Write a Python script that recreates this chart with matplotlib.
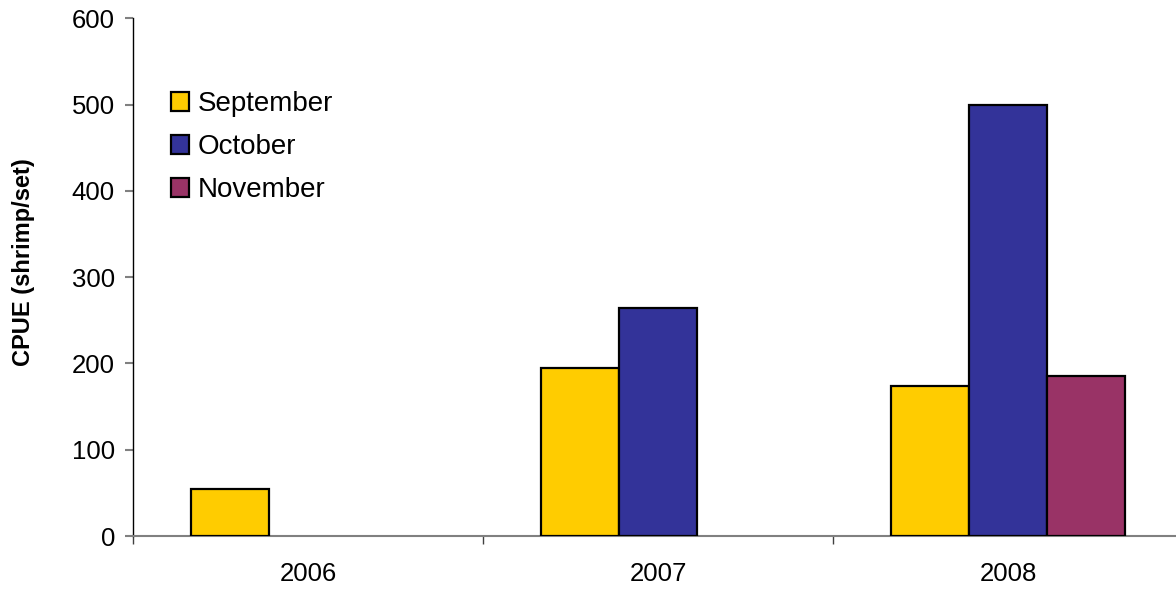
import matplotlib
matplotlib.use("Agg")
import matplotlib.pyplot as plt
import numpy as np

plt.rcParams['font.family'] = ['Liberation Sans', 'DejaVu Sans']

years = ["2006", "2007", "2008"]
months = ["September", "October", "November"]
september = [55, 195, 174]
october = [np.nan, 264, 500]
november = [np.nan, np.nan, 186]
colors = ["#FFCC00", "#333399", "#993366"]
yticks = [0, 100, 200, 300, 400, 500, 600]

W, H = 1176, 592
fig = plt.figure(figsize=(W / 100, H / 100), dpi=100)
ax = fig.add_axes([133 / W, 1 - 536 / H, 1050 / W, (536 - 18.3) / H])

x = np.arange(len(years))
bw = 0.222
series = [september, october, november]
for i, (vals, c, lab) in enumerate(zip(series, colors, months)):
    ax.bar(x + (i - 1) * bw, vals, width=bw, color=c, edgecolor="black",
           linewidth=1.6, label=lab, zorder=3)

ax.set_xlim(-0.5, 2.5)
ax.set_ylim(0, 600)
ax.set_yticks(yticks)
ax.set_yticklabels([str(t) for t in yticks])
ax.set_xticks(x)
ax.set_xticklabels(years)
ax.set_xticks([-0.5, 0.5, 1.5], minor=True)

for s in ["top", "right"]:
    ax.spines[s].set_visible(False)
ax.spines["left"].set_color("black")
ax.spines["left"].set_linewidth(1.0)
ax.spines["bottom"].set_color("#808080")
ax.spines["bottom"].set_linewidth(1.5)

ax.tick_params(axis="y", which="major", length=6, width=1.5, color="#808080",
               labelsize=18.5, pad=7)
ax.tick_params(axis="x", which="major", length=0, labelsize=18.5, pad=18.5)
ax.tick_params(axis="x", which="minor", length=6, width=1.0, color="#404040")

fig.text(24 / W, 1 - 262 / H, "CPUE (shrimp/set)", rotation=90,
         ha="center", va="center", fontsize=17, fontweight="bold")

leg = ax.legend(loc="upper left", bbox_to_anchor=(171 / W, 1 - 91 / H),
                bbox_transform=fig.transFigure, frameon=False, fontsize=20,
                handlelength=0.65, handleheight=0.65, handletextpad=0.3,
                labelspacing=0.62, borderaxespad=0, borderpad=0)

fig.savefig("out.png", dpi=100)
